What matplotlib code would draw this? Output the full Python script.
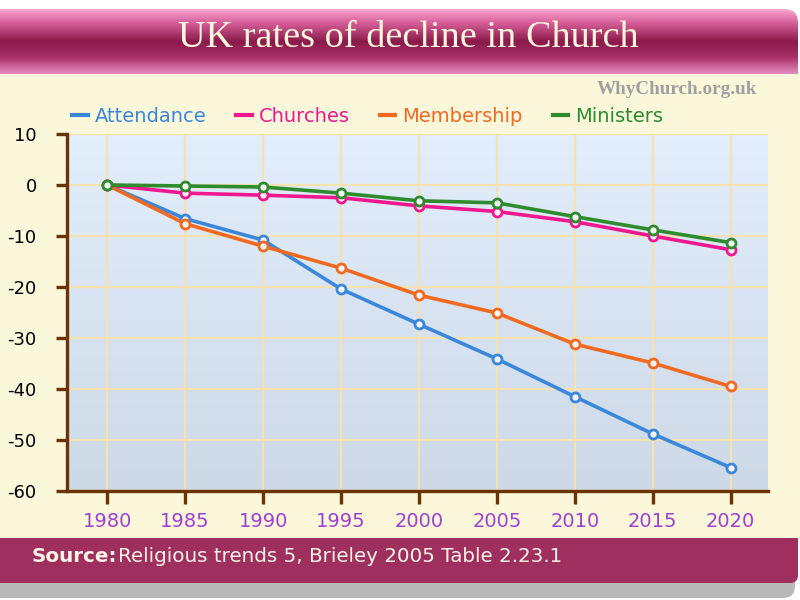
import numpy as np
import matplotlib
matplotlib.use("Agg")
import matplotlib.pyplot as plt
from matplotlib.patches import Rectangle, FancyBboxPatch
from matplotlib.lines import Line2D
from matplotlib.colors import LinearSegmentedColormap

years = [1980, 1985, 1990, 1995, 2000, 2005, 2010, 2015, 2020]
attendance = [0, -6.6, -10.8, -20.4, -27.3, -34.1, -41.5, -48.8, -55.4]
churches = [0, -1.6, -2.0, -2.5, -4.1, -5.2, -7.2, -10.0, -12.7]
membership = [0, -7.6, -12.0, -16.3, -21.6, -25.1, -31.2, -34.9, -39.5]
ministers = [0, -0.2, -0.4, -1.6, -3.1, -3.5, -6.2, -8.8, -11.3]
yticks = [10, 0, -10, -20, -30, -40, -50, -60]

series = [
    ("Attendance", attendance, "#3b87db"),
    ("Churches", churches, "#f0188f"),
    ("Membership", membership, "#f26a21"),
    ("Ministers", ministers, "#2e8b2e"),
]

plt.rcParams["axes.unicode_minus"] = False

fig = plt.figure(figsize=(8, 6), dpi=100)
fig.patch.set_facecolor("white")

# card background drawn in pixel coords
bg = fig.add_axes([0, 0, 1, 1], zorder=-5)
bg.axis("off")

bg.add_patch(FancyBboxPatch((-20, 560), 815, 38, boxstyle="round,pad=0,rounding_size=12",
                            fc="#8a8a8a", ec="none", alpha=0.6))
bg.add_patch(Rectangle((0, 74), 800, 468, fc="#faf7da", ec="none"))
bg.add_patch(FancyBboxPatch((-20, 530), 818, 53, boxstyle="round,pad=0,rounding_size=8",
                            fc="#9e2f5f", ec="none"))
bg.add_patch(Rectangle((0, 520), 800, 18, fc="#faf7da", ec="none"))

head_cmap = LinearSegmentedColormap.from_list(
    "head", [(0, "#f7a6cf"), (0.2, "#d9609c"), (0.5, "#8a1a4a"),
             (0.75, "#a8326a"), (1, "#e58bbb")])
grad = np.linspace(0, 1, 100).reshape(-1, 1)
clip = FancyBboxPatch((-20, 9), 818, 90, boxstyle="round,pad=0,rounding_size=14",
                      fc="none", ec="none")
bg.add_patch(clip)
im = bg.imshow(grad, cmap=head_cmap, aspect="auto", extent=[0, 800, 74, 9], zorder=3)
im.set_clip_path(clip)
bg.set_xlim(0, 800)
bg.set_ylim(600, 0)

fig.text(0.51, 0.937, "UK rates of decline in Church", ha="center", va="center",
         fontsize=27.5, family="Liberation Serif", color="#fff6dc")
fig.text(0.947, 0.851, "WhyChurch.org.uk", ha="right", va="center", fontsize=13.8,
         family="Liberation Serif", weight="bold", color="#a0a0a0")
src = fig.text(0.04, 0.072, "Source:", ha="left", va="center", fontsize=14.3,
               weight="bold", color="#fdf3e3")
fig.canvas.draw()
src_end = src.get_window_extent().x1 / fig.bbox.width
fig.text(src_end, 0.072, "Religious trends 5, Brieley 2005 Table 2.23.1", ha="left",
         va="center", fontsize=14.3, color="#fdf3e3")

ax = fig.add_axes([0.084, 0.1817, 0.876, 0.595])
ax.patch.set_alpha(0)

plot_cmap = LinearSegmentedColormap.from_list("plotbg", ["#e2eefb", "#cdd9e6"])
ax.imshow(grad, cmap=plot_cmap, aspect="auto", extent=[1977.43, 2022.4, -60, 10], zorder=0)

for name, vals, col in series:
    ax.plot(years, vals, color=col, lw=2.6, marker="o", ms=6.5, mfc="#f4f4f4",
            mec=col, mew=2, zorder=3)

ax.set_xlim(1977.43, 2022.4)
ax.set_ylim(-60, 10)
ax.set_xticks(years)
ax.set_yticks(yticks)
ax.grid(True, color="#f5e2b0", lw=1.6, zorder=1)
ax.set_axisbelow(True)

for s in ["top", "right"]:
    ax.spines[s].set_visible(False)
for s in ["left", "bottom"]:
    ax.spines[s].set_color("#6b3300")
    ax.spines[s].set_linewidth(2.4)

ax.tick_params(axis="y", length=8, width=2.4, color="#6b3300", labelsize=13,
               labelcolor="black", pad=14)
ax.tick_params(axis="x", length=9, width=2.4, color="#6b3300", labelsize=14,
               labelcolor="#a040d0", pad=6)

handles = [Line2D([], [], color=c, lw=3) for _, _, c in series]
leg = ax.legend(handles, [n for n, _, _ in series], ncol=4, frameon=False,
                loc="lower left", bbox_to_anchor=(-0.004, 1.0), fontsize=14,
                handlelength=0.8, handletextpad=0.35, columnspacing=1.55,
                borderaxespad=0)
for t, (_, _, c) in zip(leg.get_texts(), series):
    t.set_color(c)

fig.savefig("out.png", dpi=100)
